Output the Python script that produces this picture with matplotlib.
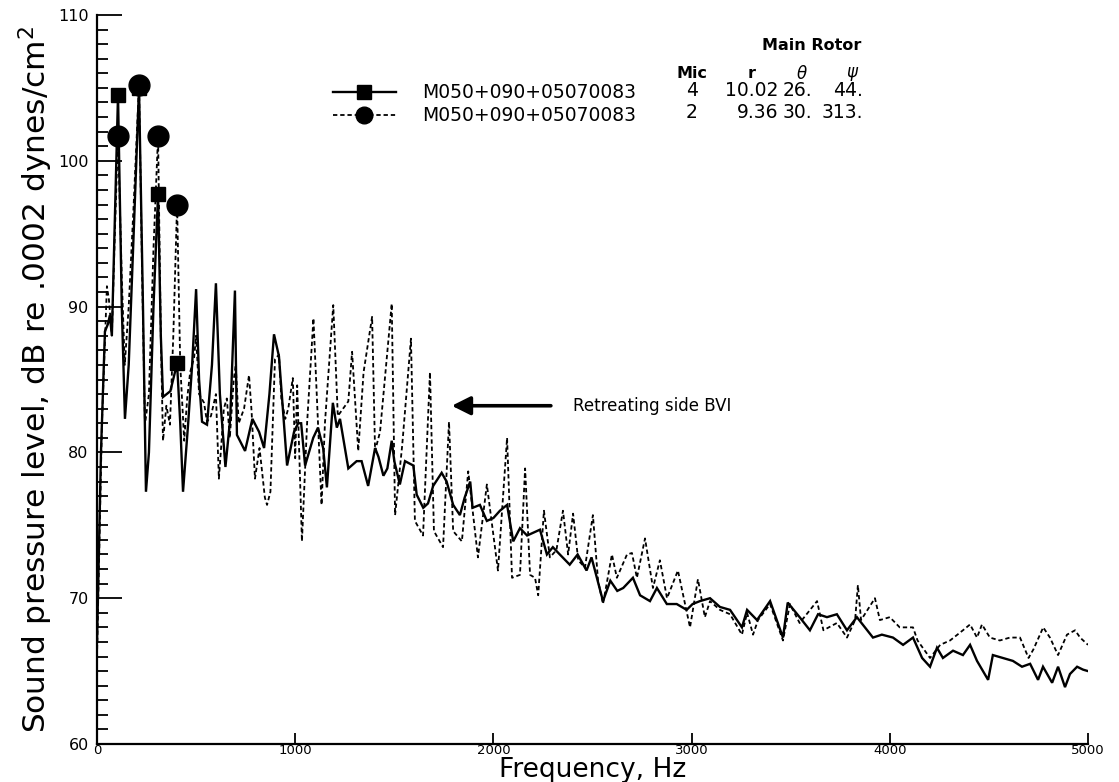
import matplotlib
matplotlib.use("Agg")
import matplotlib.pyplot as plt
from matplotlib.lines import Line2D
from matplotlib.ticker import MultipleLocator

# ---- spectrum, microphone 4 (solid line) ----
mic4_freq = [0, 20, 40, 55, 65, 75, 90, 106, 125, 141, 160, 185, 212, 232, 247, 262,
             285, 308, 322, 333, 370, 404, 420, 434, 460, 480, 500, 515, 530, 555, 580,
             600, 620, 648, 672, 696, 706, 747, 784, 818, 843, 870, 893, 918, 959, 994,
             1015, 1030, 1050, 1091, 1115, 1141, 1160, 1190, 1210, 1226, 1268, 1310, 1335,
             1368, 1403, 1420, 1445, 1465, 1487, 1500, 1528, 1554, 1596, 1613, 1646, 1670,
             1696, 1739, 1764, 1797, 1831, 1855, 1883, 1895, 1932, 1967, 2000, 2033, 2069,
             2100, 2134, 2170, 2235, 2270, 2300, 2335, 2385, 2425, 2470, 2495, 2553, 2590,
             2625, 2655, 2704, 2740, 2790, 2825, 2875, 2925, 2975, 3005, 3042, 3093, 3143,
             3194, 3254, 3280, 3330, 3396, 3461, 3485, 3545, 3597, 3638, 3683, 3733, 3784,
             3834, 3915, 3960, 4016, 4067, 4117, 4163, 4203, 4238, 4268, 4319, 4369, 4405,
             4440, 4496, 4520, 4571, 4621, 4667, 4708, 4748, 4773, 4819, 4849, 4884, 4909,
             4945, 4975, 5000]
mic4_level = [67.0, 80.0, 88.3, 88.8, 89.4, 88.0, 96.0, 104.5, 90.0, 82.3, 86.0, 95.0,
              105.0, 90.0, 77.3, 80.0, 90.0, 97.7, 88.0, 83.8, 84.2, 86.1, 82.0, 77.3, 82.0,
              86.0, 91.2, 85.0, 82.1, 81.9, 86.0, 91.6, 84.0, 79.0, 82.3, 91.1, 81.2, 80.1,
              82.3, 81.4, 80.3, 84.0, 88.1, 86.6, 79.1, 81.4, 82.0, 82.0, 79.1, 81.0, 81.7,
              80.3, 77.6, 83.4, 81.7, 82.3, 78.9, 79.4, 79.4, 77.7, 80.3, 79.7, 78.4, 78.9,
              80.8, 79.4, 77.8, 79.4, 79.1, 77.1, 76.2, 76.5, 77.7, 78.6, 78.0, 76.4, 75.7,
              76.9, 78.0, 76.2, 76.4, 75.3, 75.5, 76.0, 76.4, 73.9, 74.8, 74.3, 74.7, 73.0,
              73.5, 73.0, 72.3, 73.0, 71.9, 72.8, 69.8, 71.2, 70.5, 70.7, 71.4, 70.2, 69.8,
              70.7, 69.6, 69.6, 69.2, 69.6, 69.8, 70.0, 69.4, 69.2, 68.0, 69.2, 68.5, 69.8,
              67.3, 69.7, 68.7, 67.8, 68.9, 68.7, 68.9, 67.8, 68.7, 67.3, 67.5, 67.3, 66.8,
              67.3, 65.9, 65.3, 66.6, 65.9, 66.4, 66.1, 66.8, 65.7, 64.4, 66.1, 65.9, 65.7,
              65.3, 65.5, 64.4, 65.3, 64.2, 65.3, 63.9, 64.8, 65.3, 65.1, 65.0]

# ---- spectrum, microphone 2 (dashed line) ----
mic2_freq = [0, 25, 50, 60, 75, 90, 106, 125, 140, 160, 185, 212, 228, 242, 262, 285, 308,
             322, 333, 350, 368, 385, 404, 420, 440, 455, 470, 490, 500, 515, 540, 555, 575,
             600, 615, 640, 655, 670, 690, 700, 715, 742, 767, 780, 797, 820, 847, 858, 875,
             898, 918, 930, 950, 965, 988, 1000, 1010, 1034, 1060, 1092, 1133, 1150, 1192,
             1215, 1268, 1287, 1318, 1345, 1388, 1403, 1428, 1487, 1504, 1540, 1584, 1604,
             1645, 1680, 1700, 1746, 1776, 1797, 1841, 1873, 1922, 1967, 2023, 2069, 2094,
             2134, 2160, 2185, 2210, 2226, 2255, 2285, 2318, 2351, 2377, 2402, 2428, 2462,
             2502, 2528, 2553, 2598, 2623, 2674, 2699, 2724, 2765, 2805, 2840, 2876, 2931,
             2992, 3032, 3067, 3093, 3143, 3194, 3254, 3280, 3310, 3335, 3396, 3461, 3496,
             3545, 3633, 3665, 3733, 3784, 3825, 3839, 3855, 3925, 3950, 4000, 4050, 4117,
             4140, 4203, 4254, 4304, 4369, 4405, 4440, 4465, 4505, 4555, 4606, 4657, 4700,
             4725, 4774, 4808, 4849, 4894, 4935, 4960, 5000]
mic2_level = [66.0, 82.0, 91.4, 90.5, 88.0, 95.0, 101.7, 92.0, 86.0, 90.0, 97.0, 105.2,
              92.0, 81.9, 84.0, 94.0, 101.7, 88.0, 80.8, 83.2, 81.9, 88.0, 97.0, 86.0, 80.8,
              83.7, 85.5, 86.5, 88.0, 84.0, 83.4, 82.1, 82.5, 84.0, 78.2, 83.0, 83.7, 81.0,
              85.0, 86.0, 82.0, 83.0, 85.3, 82.8, 78.2, 80.3, 76.9, 76.4, 77.3, 86.4, 86.7,
              83.7, 82.3, 83.0, 85.1, 79.6, 84.6, 73.9, 82.0, 89.2, 76.4, 82.0, 90.1, 82.5,
              83.5, 86.9, 80.1, 85.5, 89.3, 80.1, 81.4, 90.2, 75.7, 80.5, 87.8, 75.3, 74.3,
              85.5, 74.6, 73.5, 82.1, 74.6, 73.9, 78.7, 72.8, 77.8, 71.9, 81.0, 71.4, 71.6,
              78.9, 71.6, 71.4, 70.2, 76.0, 72.8, 73.3, 76.0, 73.0, 75.8, 72.6, 72.1, 75.7,
              71.2, 69.6, 73.0, 71.4, 73.0, 73.1, 71.4, 74.1, 70.7, 72.6, 70.0, 71.9, 68.0,
              71.3, 68.7, 69.8, 69.2, 68.9, 67.5, 69.0, 67.5, 68.5, 69.6, 67.1, 69.6, 68.3,
              69.8, 67.8, 68.3, 67.3, 68.5, 70.9, 68.5, 70.0, 68.5, 68.7, 68.0, 68.0, 67.1,
              65.9, 66.8, 67.1, 67.8, 68.2, 67.3, 68.2, 67.3, 67.1, 67.3, 67.3, 65.9, 66.5,
              68.0, 67.3, 66.1, 67.5, 67.8, 67.3, 66.8]

# main-rotor harmonics carrying symbols
harmonic_freq = [106, 212, 308, 404]

run_name = "M050+090+05070083"
mic_ids = ["4", "2"]
mic_r = ["10.02", "9.36"]
mic_theta = ["26.", "30."]
mic_psi = ["44.", "313."]

FS = 13.5
plt.rcParams["font.family"] = ["DejaVu Sans"]

fig = plt.figure(figsize=(11.19, 7.82), dpi=100)
W, H = 1119, 782
AX_L, AX_R, AX_T, AX_B = 97, 1088, 15, 744
ax = fig.add_axes([AX_L / W, 1 - AX_B / H, (AX_R - AX_L) / W, (AX_B - AX_T) / H])


def px(x, y):
    return x / W, 1 - y / H


mk4 = [mic4_freq.index(f) for f in harmonic_freq]
mk2 = [mic2_freq.index(f) for f in harmonic_freq]

ax.plot(mic4_freq, mic4_level, color="black", lw=1.7, solid_joinstyle="miter",
        marker="s", markersize=10, markevery=mk4, zorder=3)
ax.plot(mic2_freq, mic2_level, color="black", lw=1.3, linestyle=(0, (2.4, 1.6)),
        marker="o", markersize=15, markevery=mk2, zorder=4)

ax.set_xlim(0, 5000)
ax.set_ylim(60, 110)
ax.xaxis.set_major_locator(MultipleLocator(1000))
ax.yaxis.set_major_locator(MultipleLocator(10))
ax.yaxis.set_minor_locator(MultipleLocator(1))
ax.tick_params(axis="y", which="major", direction="in", length=18, width=1.3,
               labelsize=11.5, pad=6)
ax.tick_params(axis="y", which="minor", direction="in", length=8, width=1.3)
ax.tick_params(axis="x", which="major", direction="in", length=8, width=1.3,
               labelsize=9.5, pad=0)
for side in ("top", "right"):
    ax.spines[side].set_visible(False)
for side in ("left", "bottom"):
    ax.spines[side].set_linewidth(1.6)

ax.set_xlabel("Frequency, Hz", fontsize=19, labelpad=0)
ax.set_ylabel("Sound pressure level, dB re .0002 dynes/cm$^2$", fontsize=22.5, labelpad=2)

# annotation of the BVI content
ax.annotate("", xy=(1790, 83.2), xytext=(2290, 83.2),
            arrowprops=dict(arrowstyle="-|>", lw=2.6, color="black", mutation_scale=28,
                            shrinkA=0, shrinkB=0))
ax.text(2400, 83.2, "Retreating side BVI", fontsize=12, va="center", ha="left")

# legend with microphone table
handles = [Line2D([], [], color="black", lw=1.7, marker="s", markersize=10),
           Line2D([], [], color="black", lw=1.3, linestyle=(0, (2.4, 1.6)),
                  marker="o", markersize=12)]
fig.legend(handles, [run_name, run_name], loc="upper left",
           bbox_to_anchor=px(325, 76), frameon=False, fontsize=FS,
           handlelength=3.4, handletextpad=1.4, labelspacing=0.2, borderaxespad=0)

fig.text(*px(812, 45), "Main Rotor", fontsize=11.5, ha="center", va="center",
         fontweight="semibold")
fig.text(*px(692, 74), "Mic", fontsize=11.5, ha="center", va="center", fontweight="semibold")
fig.text(*px(752, 74), "r", fontsize=11.5, ha="center", va="center", fontweight="semibold")
fig.text(*px(802, 74), r"$\theta$", fontsize=12, ha="center", va="center")
fig.text(*px(853, 74), r"$\psi$", fontsize=12, ha="center", va="center")
for i, yy in enumerate([91, 113]):
    fig.text(*px(692, yy), mic_ids[i], fontsize=FS, ha="center", va="center")
    fig.text(*px(778, yy), mic_r[i], fontsize=FS, ha="right", va="center")
    fig.text(*px(812, yy), mic_theta[i], fontsize=FS, ha="right", va="center")
    fig.text(*px(863, yy), mic_psi[i], fontsize=FS, ha="right", va="center")

fig.savefig("out.png", dpi=100)
